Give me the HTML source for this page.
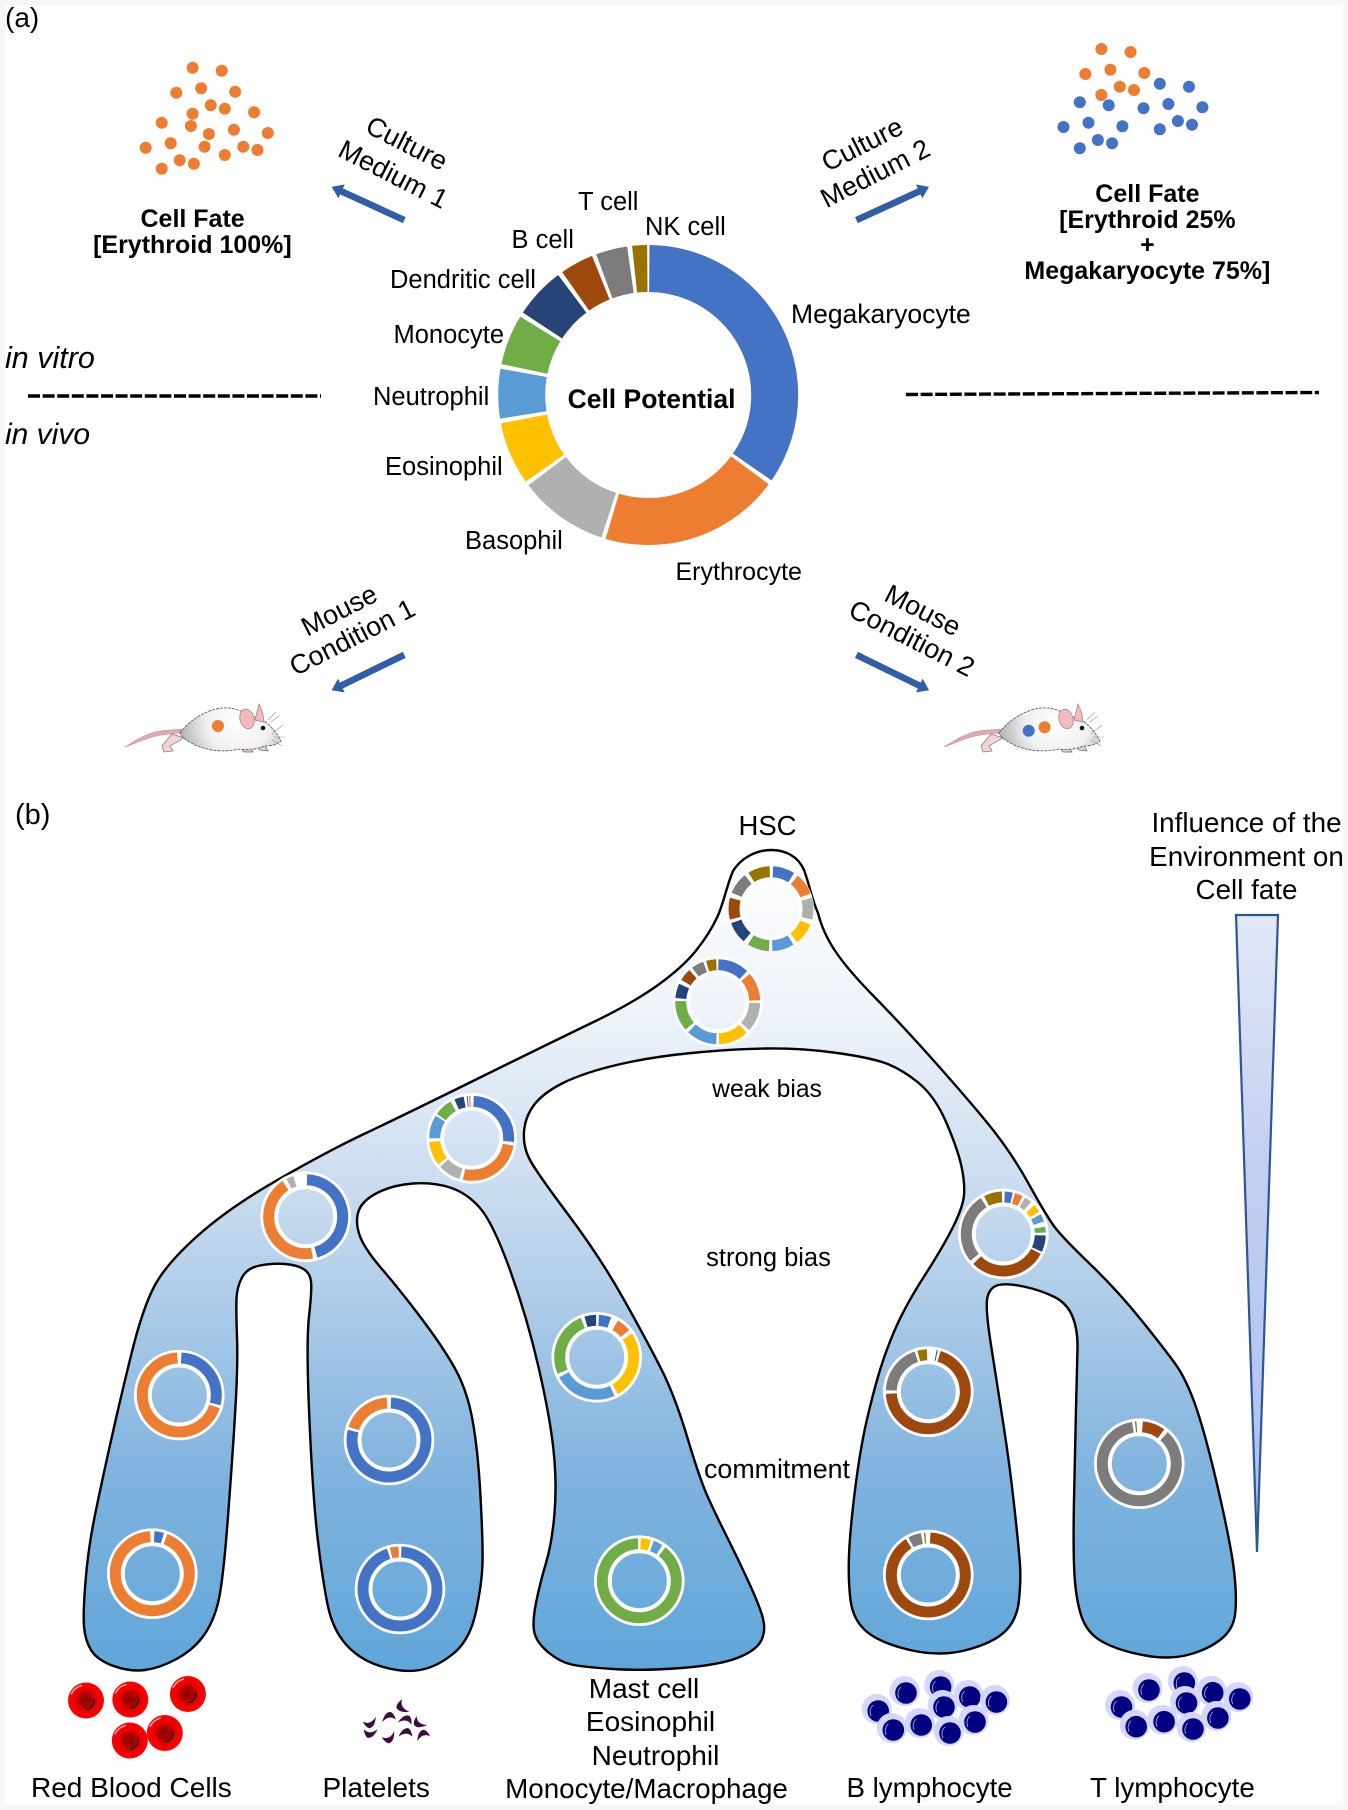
<!DOCTYPE html>
<html lang="en">
<head>
<meta charset="utf-8">
<title>Cell potential and cell fate</title>
<style>
html,body{margin:0;padding:0;background:#faf6f5}
svg{display:block}
text{font-family:"Liberation Sans",Arial,sans-serif;fill:#000}
.l{font-size:25.5px}
.rot{font-size:27px}
.xl{font-size:28px}
.bd{font-size:25px;font-weight:bold}
.m{text-anchor:middle}
.it{font-size:30px;font-style:italic}
.b{stroke:#4472c4}.o{stroke:#ed7d31}.g{stroke:#b0b0b0}.y{stroke:#ffc000}.lb{stroke:#5b9bd5}.gr{stroke:#70ad47}.n{stroke:#264478}.br{stroke:#9e480e}.dg{stroke:#7c7c7c}.au{stroke:#997300}
</style>
</head>
<body>
<svg xmlns="http://www.w3.org/2000/svg" width="1348" height="1810" viewBox="0 0 1348 1810">
<defs>
<linearGradient id="tree" gradientUnits="userSpaceOnUse" x1="0" y1="850" x2="0" y2="1670">
<stop offset="0" stop-color="#ffffff"/><stop offset=".2" stop-color="#eef3fa"/><stop offset=".45" stop-color="#c3d8ed"/><stop offset=".75" stop-color="#82b4de"/><stop offset="1" stop-color="#60a6da"/>
</linearGradient>
<linearGradient id="tri" x1="0" y1="0" x2="0" y2="1">
<stop offset="0" stop-color="#e2e8f7"/><stop offset=".4" stop-color="#c3cff0"/><stop offset="1" stop-color="#a9bfef"/>
</linearGradient>
<radialGradient id="rbc"><stop offset="0" stop-color="#8c0000"/><stop offset=".38" stop-color="#b00000"/><stop offset=".58" stop-color="#e80000"/><stop offset="1" stop-color="#ff0000"/></radialGradient>
<radialGradient id="mb" gradientUnits="userSpaceOnUse" cx="238" cy="722" r="58"><stop offset="0" stop-color="#ffffff"/><stop offset=".55" stop-color="#f0f0f0"/><stop offset="1" stop-color="#b4b4b4"/></radialGradient>
<g id="rc"><circle r="18" fill="url(#rbc)"/><path d="M-15,-6 A16,16 0 0 1 -4,-15" fill="none" stroke="#ff9a9a" stroke-width="1.5"/><path d="M8,-2 A9,9 0 0 1 0,9" fill="none" stroke="#222" stroke-width="1.6"/></g>
<path id="pl" d="M-8,-3 Q0,3 8,-6 Q5,6 -2,6 Q-6,4 -8,-3Z" fill="#3c0d40"/>
<g id="ly"><circle cx="-1.5" cy="-2" r="15" fill="#d6d6fd"/><circle r="10.8" fill="#000080"/><path d="M-7,5 A9,9 0 0 1 -5,-6" fill="none" stroke="#b8b8f0" stroke-width=".8"/></g>
<g id="mouse">
<path d="M125,747 C135,741 142,736 152,733 C162,730 172,730 186,729 L186,733 C172,733 160,735 152,737 C142,740 134,744 125,747Z" fill="#e3a9b0" stroke="#b98a90" stroke-width=".6"/>
<path d="M172,734 L162,746 L164,752 L173,751 L170,746 L184,738Z" fill="#f2d4d4" stroke="#777" stroke-width=".7"/>
<path d="M240,746 L244,752 L253,752 L250,746Z" fill="#eec9c9" stroke="#666" stroke-width=".7"/>
<path d="M256,744 L260,750 L268,751 L264,744Z" fill="#eec9c9" stroke="#666" stroke-width=".7"/>
<path d="M180,733 C188,722 204,710 222,708 C234,707 243,711 250,717 C256,716 264,720 270,726 C275,731 279,737 281,741 C277,745 270,746 264,746 C258,749 250,750 240,749 C225,752 212,752 195,745 C188,741 183,739 180,733Z" fill="url(#mb)" stroke="#555" stroke-width=".8" stroke-dasharray="3 1"/>
<ellipse cx="247" cy="719" rx="7" ry="10" fill="#f3bcbc" stroke="#a77" stroke-width=".7" transform="rotate(-15 247 719)"/>
<path d="M255,720 L259,704 L263,714 L264,722Z" fill="#f3bcbc" stroke="#a77" stroke-width=".7"/>
<circle cx="263" cy="728" r="2.3" fill="#111"/>
<path d="M272,734 L283,725 M274,737 L285,737 M272,740 L282,746 M268,720 L276,712 M271,722 L279,716" stroke="#999" stroke-width=".6" fill="none"/>
</g>
</defs>

<rect x="5" y="5" width="1338" height="1800" fill="#fff"/>

<text x="5" y="27" class="xl">(a)</text>

<g fill="#ed7d31">
<circle cx="192.6" cy="67.7" r="6"/><circle cx="221.8" cy="70.7" r="6"/><circle cx="176.3" cy="92.7" r="6"/><circle cx="201.2" cy="88.3" r="6"/><circle cx="235.2" cy="91.7" r="6"/><circle cx="210.7" cy="105.3" r="6"/><circle cx="224.8" cy="108.7" r="6"/><circle cx="192.6" cy="113.7" r="6"/><circle cx="254.1" cy="112.3" r="6"/><circle cx="161.7" cy="122.7" r="6"/><circle cx="190.9" cy="126" r="6"/><circle cx="208.9" cy="134" r="6"/><circle cx="233.9" cy="129.7" r="6"/><circle cx="267.8" cy="133" r="6"/><circle cx="145.7" cy="147.7" r="6"/><circle cx="170.7" cy="143.3" r="6"/><circle cx="204.6" cy="146.7" r="6"/><circle cx="243.3" cy="146.7" r="6"/><circle cx="257.5" cy="150" r="6"/><circle cx="224.8" cy="155" r="6"/><circle cx="179.7" cy="160.3" r="6"/><circle cx="193.9" cy="163.7" r="6"/><circle cx="161.7" cy="168.7" r="6"/>
<circle cx="1101.4" cy="49" r="6"/><circle cx="1130.6" cy="52" r="6"/><circle cx="1085.4" cy="74" r="6"/><circle cx="1110.4" cy="69.7" r="6"/><circle cx="1144.3" cy="73" r="6"/><circle cx="1119.8" cy="86.7" r="6"/><circle cx="1134" cy="90" r="6"/><circle cx="1101.4" cy="95" r="6"/>
</g>
<g fill="#4472c4">
<circle cx="1159.8" cy="83.7" r="6"/><circle cx="1189" cy="86.7" r="6"/><circle cx="1079.8" cy="102.3" r="6"/><circle cx="1108.7" cy="105.3" r="6"/><circle cx="1143.5" cy="108.3" r="6"/><circle cx="1168.4" cy="104" r="6"/><circle cx="1202.4" cy="107.3" r="6"/><circle cx="1088.5" cy="122.7" r="6"/><circle cx="1063.5" cy="127" r="6"/><circle cx="1122.4" cy="126.3" r="6"/><circle cx="1159.8" cy="129.3" r="6"/><circle cx="1177.9" cy="121" r="6"/><circle cx="1192" cy="124.7" r="6"/><circle cx="1097.9" cy="140" r="6"/><circle cx="1112.1" cy="143.3" r="6"/><circle cx="1079.8" cy="148.3" r="6"/>
</g>

<text x="192.6" y="227" class="bd m">Cell Fate</text>
<text x="192.4" y="253" class="bd m">[Erythroid 100%]</text>
<text x="1147.4" y="202" class="bd m">Cell Fate</text>
<text x="1147.4" y="228" class="bd m">[Erythroid 25%</text>
<text x="1147.4" y="253" class="bd m">+</text>
<text x="1147.4" y="279" class="bd m">Megakaryocyte 75%]</text>

<g class="rot m">
<text transform="translate(407 143) rotate(27)" dy=".35em">Culture</text>
<text transform="translate(393.5 174) rotate(27)" dy=".35em">Medium 1</text>
<text transform="translate(862 144) rotate(-27)" dy=".35em">Culture</text>
<text transform="translate(875 173) rotate(-27)" dy=".35em">Medium 2</text>
<text transform="translate(339 610) rotate(-27)" dy=".35em">Mouse</text>
<text transform="translate(352 637) rotate(-27)" dy=".35em">Condition 1</text>
<text transform="translate(923 610) rotate(27)" dy=".35em">Mouse</text>
<text transform="translate(912 638) rotate(27)" dy=".35em">Condition 2</text>
</g>

<g fill="#2f5fa8" stroke="#2f5597" stroke-width=".6">
<polygon transform="translate(404 220) rotate(204.6)" points="0,-3 69,-3 69,-7 79,0 69,7 69,3 0,3"/>
<polygon transform="translate(856.7 220) rotate(-24.6)" points="0,-3 69,-3 69,-7 79,0 69,7 69,3 0,3"/>
<polygon transform="translate(404 655) rotate(154)" points="0,-3 70,-3 70,-7 80,0 70,7 70,3 0,3"/>
<polygon transform="translate(856.7 655) rotate(26)" points="0,-3 70,-3 70,-7 80,0 70,7 70,3 0,3"/>
</g>

<text x="5" y="368" class="it" style="font-size:30.5px">in vitro</text>
<text x="5" y="444" class="it">in vivo</text>
<line x1="28" y1="396" x2="321" y2="396" stroke="#000" stroke-width="3.4" stroke-dasharray="12 2.6"/>
<line x1="906" y1="394.5" x2="1319" y2="392.5" stroke="#000" stroke-width="3.4" stroke-dasharray="12 2.6"/>

<!-- main donut -->
<g transform="translate(648.2 395) rotate(-90)" fill="none" stroke-width="47">
<circle r="126.5" pathLength="360" class="b" stroke-dasharray="124.2 360" stroke-dashoffset="-.5"/>
<circle r="126.5" pathLength="360" class="o" stroke-dasharray="70 360" stroke-dashoffset="-126.5"/>
<circle r="126.5" pathLength="360" class="g" stroke-dasharray="34.8 360" stroke-dashoffset="-198.2"/>
<circle r="126.5" pathLength="360" class="y" stroke-dasharray="24.4 360" stroke-dashoffset="-234.7"/>
<circle r="126.5" pathLength="360" class="lb" stroke-dasharray="19.2 360" stroke-dashoffset="-260.9"/>
<circle r="126.5" pathLength="360" class="gr" stroke-dasharray="19.6 360" stroke-dashoffset="-281.9"/>
<circle r="126.5" pathLength="360" class="n" stroke-dasharray="19.8 360" stroke-dashoffset="-303.3"/>
<circle r="126.5" pathLength="360" class="br" stroke-dasharray="13 360" stroke-dashoffset="-325"/>
<circle r="126.5" pathLength="360" class="dg" stroke-dasharray="12.2 360" stroke-dashoffset="-339.7"/>
<circle r="126.5" pathLength="360" class="au" stroke-dasharray="5.8 360" stroke-dashoffset="-353.8"/>
</g>

<text x="578" y="210" class="l">T cell</text>
<text x="645" y="235" class="l">NK cell</text>
<text x="511.5" y="248" class="l">B cell</text>
<text x="390" y="288" class="l">Dendritic cell</text>
<text x="393.5" y="343" class="l">Monocyte</text>
<text x="373" y="405" class="l">Neutrophil</text>
<text x="385" y="475" class="l">Eosinophil</text>
<text x="465" y="549" class="l">Basophil</text>
<text x="675.5" y="580" style="font-size:25px">Erythrocyte</text>
<text x="791" y="323" style="font-size:26.5px">Megakaryocyte</text>
<text x="651.5" y="408" class="m" style="font-size:26.5px;font-weight:bold">Cell Potential</text>

<use href="#mouse"/>
<use href="#mouse" x="819"/>
<circle cx="218" cy="726" r="6" fill="#ed7d31"/>
<circle cx="1028.7" cy="730.7" r="6" fill="#4472c4"/>
<circle cx="1044.6" cy="727.3" r="6" fill="#ed7d31"/>

<text x="15" y="824" style="font-size:29px">(b)</text>
<text x="767.5" y="835" class="m" style="font-size:27.5px">HSC</text>
<g class="m" style="font-size:27.8px">
<text x="1246.5" y="832">Influence of the</text>
<text x="1246.5" y="866">Environment on</text>
<text x="1246.5" y="899">Cell fate</text>
</g>

<polygon points="1236,915 1278,915 1257,1552" fill="url(#tri)" stroke="#2f5597" stroke-width="2.2" stroke-linejoin="miter"/>

<!-- tree -->
<path fill="url(#tree)" stroke="#000" stroke-width="2.4" stroke-linejoin="round" d="M771 850C785 850 798 856 804 870C809 883 812 900 818 913Q823 933 835.5 951.5Q848 970 874 996.5Q900 1023 930 1056.5Q960 1090 985 1120Q1010 1150 1028.5 1183.5Q1047 1217 1055 1227.5Q1063 1238 1090 1264Q1117 1290 1140 1318.5Q1163 1347 1175 1363.5Q1187 1380 1197 1410Q1207 1440 1219.5 1495Q1232 1550 1234.5 1575Q1237 1600 1235 1615Q1233 1630 1220 1640Q1207 1650 1187.5 1655Q1168 1660 1142.5 1655Q1117 1650 1102 1641.5Q1087 1633 1081.5 1616.5Q1076 1600 1074.5 1575Q1073 1550 1074 1500Q1075 1450 1076 1408.5Q1077 1367 1077.5 1348.5Q1078 1330 1072.5 1316.5Q1067 1303 1053.5 1296.5Q1040 1290 1023.5 1286.5Q1007 1283 998.5 1285Q990 1287 987.5 1297Q985 1307 991 1345Q997 1383 1003.5 1425Q1010 1467 1014.5 1508.5Q1019 1550 1020 1565Q1021 1580 1019 1600Q1017 1620 1005 1631.5Q993 1643 966.5 1650Q940 1657 910 1650Q880 1643 866.5 1631.5Q853 1620 850.5 1600Q848 1580 849 1555Q850 1530 855 1490Q860 1450 866.5 1421.5Q873 1393 880 1370Q887 1347 897 1325Q907 1303 925 1275Q943 1247 953 1227Q963 1207 964 1195Q965 1183 961.5 1166.5Q958 1150 946.5 1123Q935 1096 917.5 1082Q900 1068 883.5 1062.5Q867 1057 833.5 1052.5Q800 1048 766.5 1048.5Q733 1049 691.5 1053Q650 1057 616.5 1065Q583 1073 563 1083Q543 1093 534 1105Q525 1117 524 1132Q523 1147 530 1160Q537 1173 568.5 1215Q600 1257 623 1298Q646 1339 660.5 1367.5Q675 1396 687.5 1438Q700 1480 708.5 1498.5Q717 1517 728.5 1540Q740 1563 750 1585Q760 1607 763 1618.5Q766 1630 761.5 1640Q757 1650 738.5 1657.5Q720 1665 681.5 1668Q643 1671 613 1669Q583 1667 571.5 1664.5Q560 1662 548.5 1652.5Q537 1643 534.5 1633Q532 1623 536 1603Q540 1583 546 1563Q552 1543 554.5 1513Q557 1483 553.5 1450Q550 1417 538.5 1367Q527 1317 510 1270Q493 1223 480 1208Q467 1193 450 1187.5Q433 1182 413 1183.5Q393 1185 378 1192.5Q363 1200 359 1210Q355 1220 359 1233.5Q363 1247 381.5 1268.5Q400 1290 421.5 1318.5Q443 1347 455 1368.5Q467 1390 472.5 1420Q478 1450 480.5 1496.5Q483 1543 482.5 1563Q482 1583 476 1611.5Q470 1640 453.5 1653.5Q437 1667 420 1670Q403 1673 381.5 1666.5Q360 1660 346.5 1645Q333 1630 328 1606.5Q323 1583 318 1541.5Q313 1500 309.5 1421.5Q306 1343 309 1316.5Q312 1290 311 1281.5Q310 1273 303.5 1269Q297 1265 285 1264Q273 1263 260 1265.5Q247 1268 242 1277.5Q237 1287 236.5 1298.5Q236 1310 237 1336.5Q238 1363 235.5 1406.5Q233 1450 228 1516.5Q223 1583 218 1603Q213 1623 203 1636.5Q193 1650 176.5 1659Q160 1668 145 1670Q130 1672 113.5 1666Q97 1660 91 1650Q85 1640 84 1626.5Q83 1613 85.5 1581.5Q88 1550 94 1520Q100 1490 110 1445Q120 1400 131.5 1353.5Q143 1307 155 1285Q167 1263 198.5 1235Q230 1207 280 1178.5Q330 1150 365 1133.5Q400 1117 475 1080Q550 1043 591.5 1023Q633 1003 658 985Q683 967 696.5 950Q710 933 717.5 916.5C723 905 727 885 733 871C741 858 756 850 771 850Z"/>

<text x="767" y="1097" class="m" style="font-size:24.7px">weak bias</text>
<text x="768.5" y="1266" class="m" style="font-size:25.5px">strong bias</text>
<text x="777" y="1478" class="m" style="font-size:26.8px">commitment</text>

<!-- HSC ring -->
<g transform="translate(771 908.7) rotate(-90)" fill="none" stroke-width="11">
<circle r="35.5" stroke="#fff" stroke-width="15"/>
<circle r="37" pathLength="360" class="b" stroke-dasharray="30 360" stroke-dashoffset="-3"/>
<circle r="37" pathLength="360" class="o" stroke-dasharray="30 360" stroke-dashoffset="-39"/>
<circle r="37" pathLength="360" class="g" stroke-dasharray="30 360" stroke-dashoffset="-75"/>
<circle r="37" pathLength="360" class="y" stroke-dasharray="30 360" stroke-dashoffset="-112"/>
<circle r="37" pathLength="360" class="lb" stroke-dasharray="30 360" stroke-dashoffset="-148"/>
<circle r="37" pathLength="360" class="gr" stroke-dasharray="30 360" stroke-dashoffset="-183"/>
<circle r="37" pathLength="360" class="n" stroke-dasharray="30 360" stroke-dashoffset="-220"/>
<circle r="37" pathLength="360" class="br" stroke-dasharray="30 360" stroke-dashoffset="-255"/>
<circle r="37" pathLength="360" class="dg" stroke-dasharray="30 360" stroke-dashoffset="-292"/>
<circle r="37" pathLength="360" class="au" stroke-dasharray="30 360" stroke-dashoffset="-328"/>
</g>
<!-- ring 2 -->
<g transform="translate(717.7 1001.7) rotate(-90)" fill="none" stroke-width="11">
<circle r="36.4" stroke="#fff" stroke-width="17.8"/>
<circle r="37" pathLength="360" class="b" stroke-dasharray="43 360" stroke-dashoffset="-1"/>
<circle r="37" pathLength="360" class="o" stroke-dasharray="39 360" stroke-dashoffset="-49"/>
<circle r="37" pathLength="360" class="g" stroke-dasharray="40 360" stroke-dashoffset="-92"/>
<circle r="37" pathLength="360" class="y" stroke-dasharray="41 360" stroke-dashoffset="-137"/>
<circle r="37" pathLength="360" class="lb" stroke-dasharray="42 360" stroke-dashoffset="-182"/>
<circle r="37" pathLength="360" class="gr" stroke-dasharray="42 360" stroke-dashoffset="-229"/>
<circle r="37" pathLength="360" class="n" stroke-dasharray="20 360" stroke-dashoffset="-275"/>
<circle r="37" pathLength="360" class="br" stroke-dasharray="17 360" stroke-dashoffset="-301"/>
<circle r="37" pathLength="360" class="dg" stroke-dasharray="17 360" stroke-dashoffset="-323"/>
<circle r="37" pathLength="360" class="au" stroke-dasharray="14 360" stroke-dashoffset="-344"/>
</g>
<!-- ring 3 -->
<g transform="translate(471.7 1138.3) rotate(-90)" fill="none" stroke-width="11">
<circle r="36.4" stroke="#fff" stroke-width="17.8"/>
<circle r="37" pathLength="360" class="b" stroke-dasharray="92 360" stroke-dashoffset="-3"/>
<circle r="37" pathLength="360" class="o" stroke-dasharray="92 360" stroke-dashoffset="-100"/>
<circle r="37" pathLength="360" class="g" stroke-dasharray="31 360" stroke-dashoffset="-197"/>
<circle r="37" pathLength="360" class="y" stroke-dasharray="33 360" stroke-dashoffset="-232"/>
<circle r="37" pathLength="360" class="lb" stroke-dasharray="32 360" stroke-dashoffset="-270"/>
<circle r="37" pathLength="360" class="gr" stroke-dasharray="25 360" stroke-dashoffset="-305"/>
<circle r="37" pathLength="360" class="n" stroke-dasharray="13 360" stroke-dashoffset="-336"/>
<circle r="37" pathLength="360" class="br" stroke-dasharray="1.5 360" stroke-dashoffset="-353"/>
<circle r="37" pathLength="360" class="dg" stroke-dasharray="1.5 360" stroke-dashoffset="-356.5"/>
</g>
<!-- ring 4 -->
<g transform="translate(305.7 1216.7) rotate(-90)" fill="none" stroke-width="11">
<circle r="36.4" stroke="#fff" stroke-width="17.8"/>
<circle r="37" pathLength="360" class="b" stroke-dasharray="162 360" stroke-dashoffset="-2"/>
<circle r="37" pathLength="360" class="o" stroke-dasharray="157 360" stroke-dashoffset="-170"/>
<circle r="37" pathLength="360" class="g" stroke-dasharray="10 360" stroke-dashoffset="-333"/>
</g>
<!-- ring 5 -->
<g transform="translate(179.3 1395) rotate(-90)" fill="none" stroke-width="11">
<circle r="36.4" stroke="#fff" stroke-width="17.8"/>
<circle r="37" pathLength="360" class="b" stroke-dasharray="101 360" stroke-dashoffset="-3"/>
<circle r="37" pathLength="360" class="o" stroke-dasharray="249 360" stroke-dashoffset="-108"/>
</g>
<!-- ring 6 -->
<g transform="translate(389 1440) rotate(-90)" fill="none" stroke-width="11">
<circle r="36.4" stroke="#fff" stroke-width="17.8"/>
<circle r="37" pathLength="360" class="b" stroke-dasharray="281 360" stroke-dashoffset="-3"/>
<circle r="37" pathLength="360" class="o" stroke-dasharray="69 360" stroke-dashoffset="-288"/>
</g>
<!-- ring 7 -->
<g transform="translate(152.3 1573.7) rotate(-90)" fill="none" stroke-width="11">
<circle r="36.4" stroke="#fff" stroke-width="17.8"/>
<circle r="37" pathLength="360" class="b" stroke-dasharray="13 360" stroke-dashoffset="-3"/>
<circle r="37" pathLength="360" class="o" stroke-dasharray="336 360" stroke-dashoffset="-21"/>
</g>
<!-- ring 8 -->
<g transform="translate(400 1589) rotate(-90)" fill="none" stroke-width="11">
<circle r="36.4" stroke="#fff" stroke-width="17.8"/>
<circle r="37" pathLength="360" class="b" stroke-dasharray="340 360" stroke-dashoffset="-2"/>
<circle r="37" pathLength="360" class="o" stroke-dasharray="12 360" stroke-dashoffset="-346"/>
</g>
<!-- ring 9 -->
<g transform="translate(596.7 1357.3) rotate(-90)" fill="none" stroke-width="11">
<circle r="36.4" stroke="#fff" stroke-width="17.8"/>
<circle r="37" pathLength="360" class="b" stroke-dasharray="17 360" stroke-dashoffset="-3"/>
<circle r="37" pathLength="360" class="o" stroke-dasharray="20 360" stroke-dashoffset="-30"/>
<circle r="37" pathLength="360" class="y" stroke-dasharray="94 360" stroke-dashoffset="-56"/>
<circle r="37" pathLength="360" class="lb" stroke-dasharray="87 360" stroke-dashoffset="-155"/>
<circle r="37" pathLength="360" class="gr" stroke-dasharray="91 360" stroke-dashoffset="-247"/>
<circle r="37" pathLength="360" class="n" stroke-dasharray="16 360" stroke-dashoffset="-343"/>
</g>
<!-- ring 10 -->
<g transform="translate(639.3 1580.7) rotate(-90)" fill="none" stroke-width="11">
<circle r="36.4" stroke="#fff" stroke-width="17.8"/>
<circle r="37" pathLength="360" class="y" stroke-dasharray="14 360" stroke-dashoffset="-2"/>
<circle r="37" pathLength="360" class="lb" stroke-dasharray="13 360" stroke-dashoffset="-20"/>
<circle r="37" pathLength="360" class="gr" stroke-dasharray="320 360" stroke-dashoffset="-38"/>
</g>
<!-- ring 11 -->
<g transform="translate(1003.3 1234) rotate(-90)" fill="none" stroke-width="11">
<circle r="36.4" stroke="#fff" stroke-width="17.8"/>
<circle r="37" pathLength="360" class="b" stroke-dasharray="11 360" stroke-dashoffset="-2"/>
<circle r="37" pathLength="360" class="o" stroke-dasharray="11 360" stroke-dashoffset="-16"/>
<circle r="37" pathLength="360" class="g" stroke-dasharray="10 360" stroke-dashoffset="-31"/>
<circle r="37" pathLength="360" class="y" stroke-dasharray="11 360" stroke-dashoffset="-47"/>
<circle r="37" pathLength="360" class="lb" stroke-dasharray="11 360" stroke-dashoffset="-62"/>
<circle r="37" pathLength="360" class="gr" stroke-dasharray="8 360" stroke-dashoffset="-80"/>
<circle r="37" pathLength="360" class="n" stroke-dasharray="23 360" stroke-dashoffset="-92"/>
<circle r="37" pathLength="360" class="br" stroke-dasharray="107 360" stroke-dashoffset="-118"/>
<circle r="37" pathLength="360" class="dg" stroke-dasharray="97 360" stroke-dashoffset="-231"/>
<circle r="37" pathLength="360" class="au" stroke-dasharray="25 360" stroke-dashoffset="-333"/>
</g>
<!-- ring 12 -->
<g transform="translate(928.3 1391.7) rotate(-90)" fill="none" stroke-width="11">
<circle r="36.4" stroke="#fff" stroke-width="17.8"/>
<circle r="37" pathLength="360" class="n" stroke-dasharray="1.5 360" stroke-dashoffset="-11.5"/>
<circle r="37" pathLength="360" class="br" stroke-dasharray="250 360" stroke-dashoffset="-17"/>
<circle r="37" pathLength="360" class="dg" stroke-dasharray="69 360" stroke-dashoffset="-272"/>
<circle r="37" pathLength="360" class="au" stroke-dasharray="13 360" stroke-dashoffset="-345"/>
</g>
<!-- ring 13 -->
<g transform="translate(1139.3 1463.7) rotate(-90)" fill="none" stroke-width="11">
<circle r="36.4" stroke="#fff" stroke-width="17.8"/>
<circle r="37" pathLength="360" class="br" stroke-dasharray="31 360" stroke-dashoffset="-5"/>
<circle r="37" pathLength="360" class="dg" stroke-dasharray="308 360" stroke-dashoffset="-42"/>
<circle r="37" pathLength="360" class="au" stroke-dasharray="2 360" stroke-dashoffset="-354"/>
</g>
<!-- ring 14 -->
<g transform="translate(928.3 1575) rotate(-90)" fill="none" stroke-width="11">
<circle r="36.4" stroke="#fff" stroke-width="17.8"/>
<circle r="37" pathLength="360" class="br" stroke-dasharray="325 360" stroke-dashoffset="-3"/>
<circle r="37" pathLength="360" class="dg" stroke-dasharray="18 360" stroke-dashoffset="-332"/>
<circle r="37" pathLength="360" class="au" stroke-dasharray="2 360" stroke-dashoffset="-354"/>
</g>

<!-- red cells -->
<use href="#rc" x="86" y="1700.5"/>
<use href="#rc" x="130.3" y="1699.5"/>
<use href="#rc" x="187.9" y="1694"/>
<use href="#rc" x="129.8" y="1740.5"/>
<use href="#rc" x="164.8" y="1733"/>

<!-- platelets -->
<use href="#pl" transform="translate(402 1707) rotate(70) scale(.9)"/>
<use href="#pl" transform="translate(370 1723) rotate(-10) scale(.85)"/>
<use href="#pl" transform="translate(389 1717) rotate(180) scale(.85)"/>
<use href="#pl" transform="translate(406 1720) rotate(200) scale(.85)"/>
<use href="#pl" transform="translate(419 1723) rotate(50) scale(.85)"/>
<use href="#pl" transform="translate(370 1733) rotate(10) scale(.85)"/>
<use href="#pl" transform="translate(389 1738) rotate(-15) scale(.85)"/>
<use href="#pl" transform="translate(406 1733) rotate(190) scale(.85)"/>
<use href="#pl" transform="translate(423 1735) rotate(170) scale(.85)"/>

<!-- lymphocytes -->
<use href="#ly" x="940.6" y="1687"/><use href="#ly" x="906" y="1693"/><use href="#ly" x="969.8" y="1697"/><use href="#ly" x="996.4" y="1702"/><use href="#ly" x="878.2" y="1711"/><use href="#ly" x="944" y="1707"/><use href="#ly" x="975" y="1722"/><use href="#ly" x="893.3" y="1730"/><use href="#ly" x="921.2" y="1725"/><use href="#ly" x="950" y="1733"/>
<use href="#ly" x="1184.3" y="1683"/><use href="#ly" x="1149" y="1690"/><use href="#ly" x="1212.7" y="1692.7"/><use href="#ly" x="1239.8" y="1699"/><use href="#ly" x="1121.5" y="1707"/><use href="#ly" x="1186.5" y="1703"/><use href="#ly" x="1217.9" y="1718"/><use href="#ly" x="1136.2" y="1726.7"/><use href="#ly" x="1164.1" y="1721.7"/><use href="#ly" x="1193" y="1729"/>

<g class="xl">
<text x="31" y="1797">Red Blood Cells</text>
<text x="322.5" y="1797">Platelets</text>
<text x="644" y="1698" class="m">Mast cell</text>
<text x="650.5" y="1731" class="m">Eosinophil</text>
<text x="655.5" y="1765" class="m">Neutrophil</text>
<text x="646.5" y="1798" class="m" style="font-size:27.8px">Monocyte/Macrophage</text>
<text x="846.5" y="1797" style="font-size:27.7px">B lymphocyte</text>
<text x="1090" y="1797" style="font-size:27.8px">T lymphocyte</text>
</g>
</svg>
</body>
</html>
